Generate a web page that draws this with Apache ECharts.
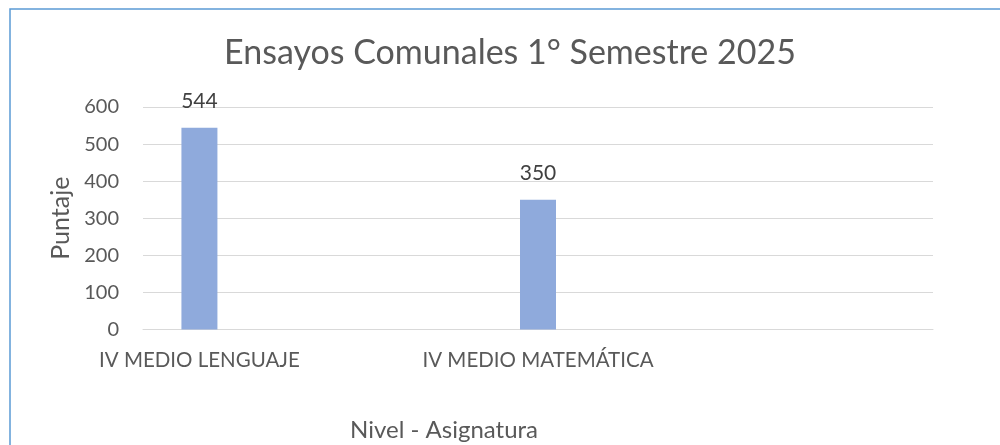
<!DOCTYPE html>
<html>
<head>
<meta charset="utf-8">
<script src="https://cdn.jsdelivr.net/npm/echarts@6/dist/echarts.min.js"></script>
<style>
  html, body { margin: 0; padding: 0; background: #fff; }
  #chart { width: 1000px; height: 445px; }
</style>
</head>
<body>
<div id="chart"></div>
<script>
// categorías del eje X (las vacías vienen de la hoja original)
const categories = ['IV MEDIO LENGUAJE', '', '', 'IV MEDIO MATEMÁTICA', '', '', '']
// puntaje por categoría
const puntajes = [544, null, null, 350, null, null, null]
// marcas del eje Y
const yMin = 0
const yMax = 600
const yStep = 100

const textColor = '#595959'
const font = 'Lato'

const chart = echarts.init(document.getElementById('chart'))
const option = {
  backgroundColor: '#fff',
  animation: false,
  textStyle: { fontFamily: font },
  title: [
    {
      text: 'Ensayos Comunales 1° Semestre 2025',
      left: 505,
      top: 31,
      textAlign: 'center',
      textStyle: { fontFamily: font, fontSize: 34, fontWeight: 'normal', color: textColor }
    },
    {
      text: 'Nivel - Asignatura',
      left: 439,
      top: 413,
      textAlign: 'center',
      textStyle: { fontFamily: font, fontSize: 24, fontWeight: 'normal', color: textColor }
    }
  ],
  // marco azul del gráfico
  graphic: [
    {
      type: 'rect',
      shape: { x: 10, y: 9, width: 1000, height: 500 },
      style: { fill: 'none', stroke: '#5b9bd5', lineWidth: 1.5 },
      silent: true
    }
  ],
  grid: {
    left: 143,
    right: 67,
    top: 107,
    bottom: 115.5,
    containLabel: false
  },
  xAxis: {
    type: 'category',
    data: categories,
    axisLine: { show: true, lineStyle: { color: '#d9d9d9', width: 1 } },
    axisTick: { show: false },
    axisLabel: { interval: 0, color: textColor, fontSize: 20.5, fontFamily: font, margin: 20 }
  },
  yAxis: {
    type: 'value',
    min: yMin,
    max: yMax,
    interval: yStep,
    name: 'Puntaje',
    nameLocation: 'middle',
    nameRotate: 90,
    nameGap: 68,
    nameTextStyle: { color: textColor, fontSize: 25, fontFamily: font },
    axisLine: { show: false },
    axisTick: { show: false },
    axisLabel: { color: textColor, fontSize: 20, fontFamily: font, margin: 24 },
    splitLine: { lineStyle: { color: '#d9d9d9', width: 1 } }
  },
  series: [
    {
      type: 'bar',
      data: puntajes,
      barWidth: 36,
      itemStyle: { color: '#8faadc' },
      label: {
        show: true,
        position: 'top',
        distance: 16,
        color: '#404040',
        fontSize: 21,
        fontFamily: font
      }
    }
  ]
}
chart.setOption(option)
</script>
</body>
</html>
